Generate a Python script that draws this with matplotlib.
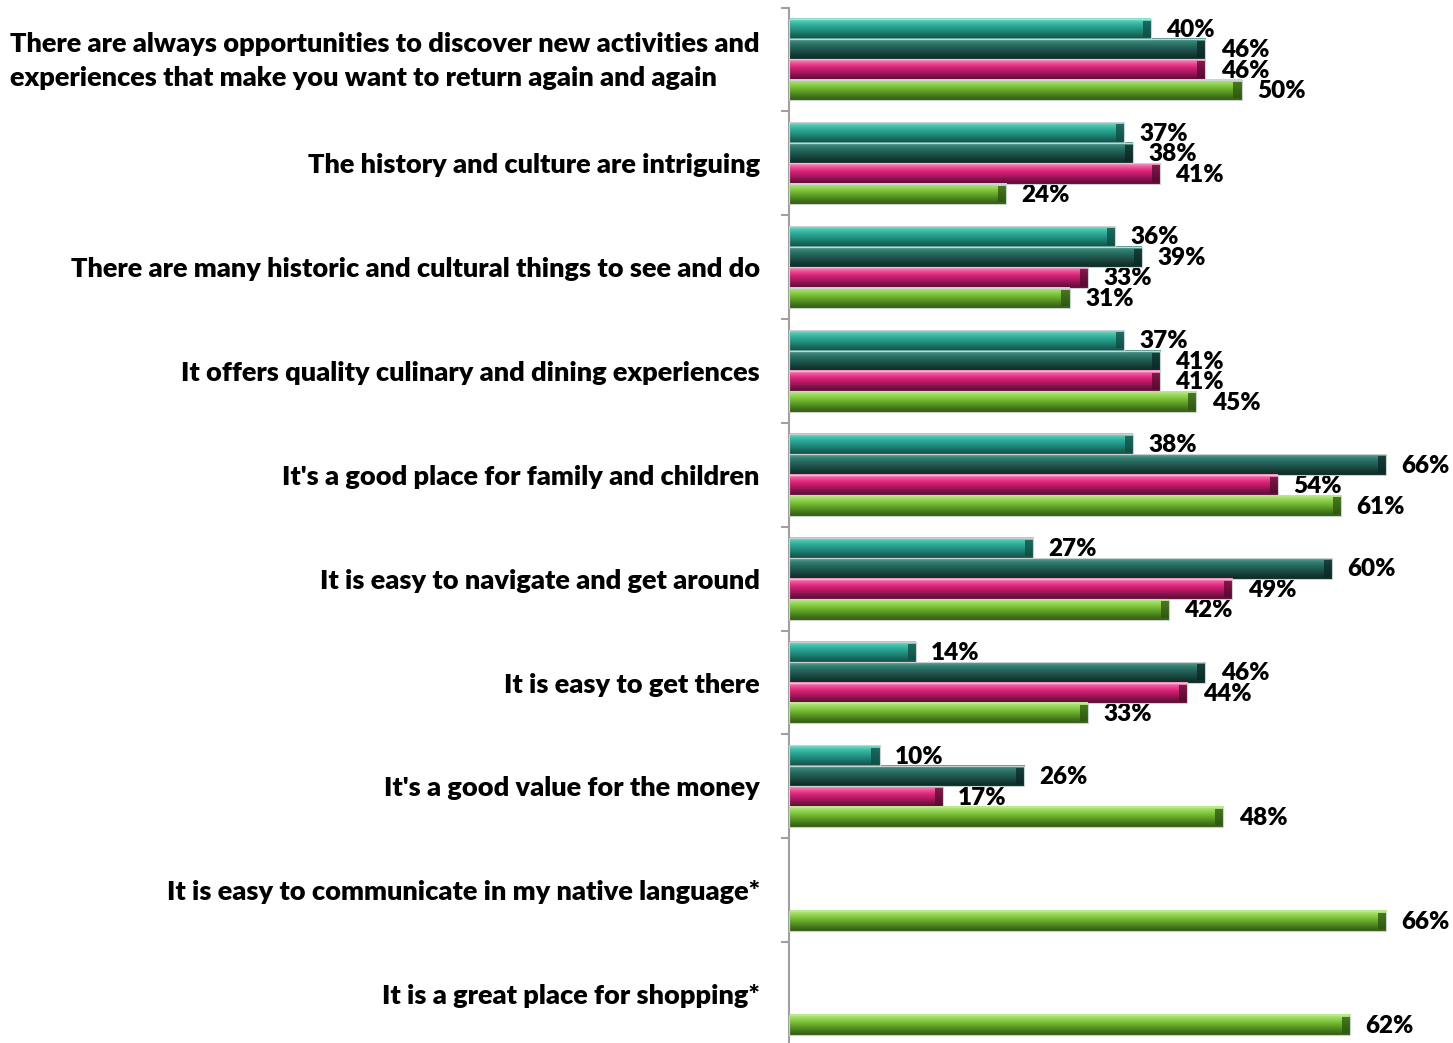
import matplotlib.pyplot as plt
import matplotlib.transforms as mtransforms
import numpy as np
from matplotlib.colors import LinearSegmentedColormap

plt.rcParams['font.family'] = ['Lato', 'DejaVu Sans']

categories = [
    "There are always opportunities to discover new activities and\nexperiences that make you want to return again and again",
    "The history and culture are intriguing",
    "There are many historic and cultural things to see and do",
    "It offers quality culinary and dining experiences",
    "It's a good place for family and children",
    "It is easy to navigate and get around",
    "It is easy to get there",
    "It's a good value for the money",
    "It is easy to communicate in my native language*",
    "It is a great place for shopping*",
]

# four series, top to bottom inside each group (nan = not asked)
series_a = [40, 37, 36, 37, 38, 27, 14, 10, np.nan, np.nan]
series_b = [46, 38, 39, 41, 66, 60, 46, 26, np.nan, np.nan]
series_c = [46, 41, 33, 41, 54, 49, 44, 17, np.nan, np.nan]
series_d = [50, 24, 31, 45, 61, 42, 33, 48, 66, 62]

# gradient stops top -> bottom for each series
shades = [
    ['#8be0d0', '#40c0aa', '#2aa592', '#1f8a7a', '#176a5e', '#125249'],
    ['#64a298', '#327d72', '#256559', '#1c5048', '#143b35', '#0d2a26'],
    ['#f59cc3', '#ee4d95', '#d82275', '#b01862', '#80124a', '#5a0c33'],
    ['#c0ec90', '#95d855', '#78bd36', '#5c9c26', '#467a1c', '#335a13'],
]
cap_colors = ['#0f4a42', '#0a2825', '#520a2d', '#2c5210']

all_series = [series_a, series_b, series_c, series_d]

fig = plt.figure(figsize=(14.53, 10.43), dpi=100)
ax = fig.add_axes([789 / 1453, 1 - 1046 / 1043, 1 - 789 / 1453, (1046 - 7.5) / 1043])

h = 0.197
grad = np.linspace(0, 1, 64).reshape(-1, 1)
for k, vals in enumerate(all_series):
    cmap = LinearSegmentedColormap.from_list('s%d' % k, shades[k])
    for i, v in enumerate(vals):
        if np.isnan(v):
            continue
        c = i + 0.5 + (k - 1.5) * h
        y0, y1 = c - h / 2, c + h / 2
        ax.imshow(grad, cmap=cmap, aspect='auto', extent=(0, v, y1, y0),
                  interpolation='bilinear', zorder=2)
        # darker bevel at the bar end
        ax.barh(c, 0.9, height=h * 0.8, left=v - 0.9, color=cap_colors[k],
                alpha=0.75, zorder=3)
        ax.barh(c, v, height=h, color='none', edgecolor='#c9d3d1',
                linewidth=0.8, zorder=4)
        ax.text(v + 1.7, c + 0.01, '%d%%' % v, va='center', ha='left',
                fontsize=17.5, fontweight='heavy', color='black')

ax.set_xlim(0, (1453 - 789) / 9.05)
ax.set_ylim(10, 0)

ax.set_yticks(np.arange(10) + 0.5)
ax.set_yticklabels(categories, fontsize=19.5, fontweight='heavy', linespacing=1.5)
for lab in ax.get_yticklabels():
    lab.set_multialignment('left')
ax.set_yticks(np.arange(11), minor=True)
ax.tick_params(axis='y', which='major', length=0, pad=21)
ax.tick_params(axis='y', which='minor', length=6, width=1.5, color='#a0a0a0')
ax.set_xticks([])

# nudge the two-line label up a little
first = ax.get_yticklabels()[0]
first.set_transform(first.get_transform() +
                    mtransforms.ScaledTranslation(0, 0.05, fig.dpi_scale_trans))

for s in ['top', 'right', 'bottom']:
    ax.spines[s].set_visible(False)
ax.spines['left'].set_color('#a0a0a0')
ax.spines['left'].set_linewidth(1.5)

fig.savefig('out.png', dpi=100)
